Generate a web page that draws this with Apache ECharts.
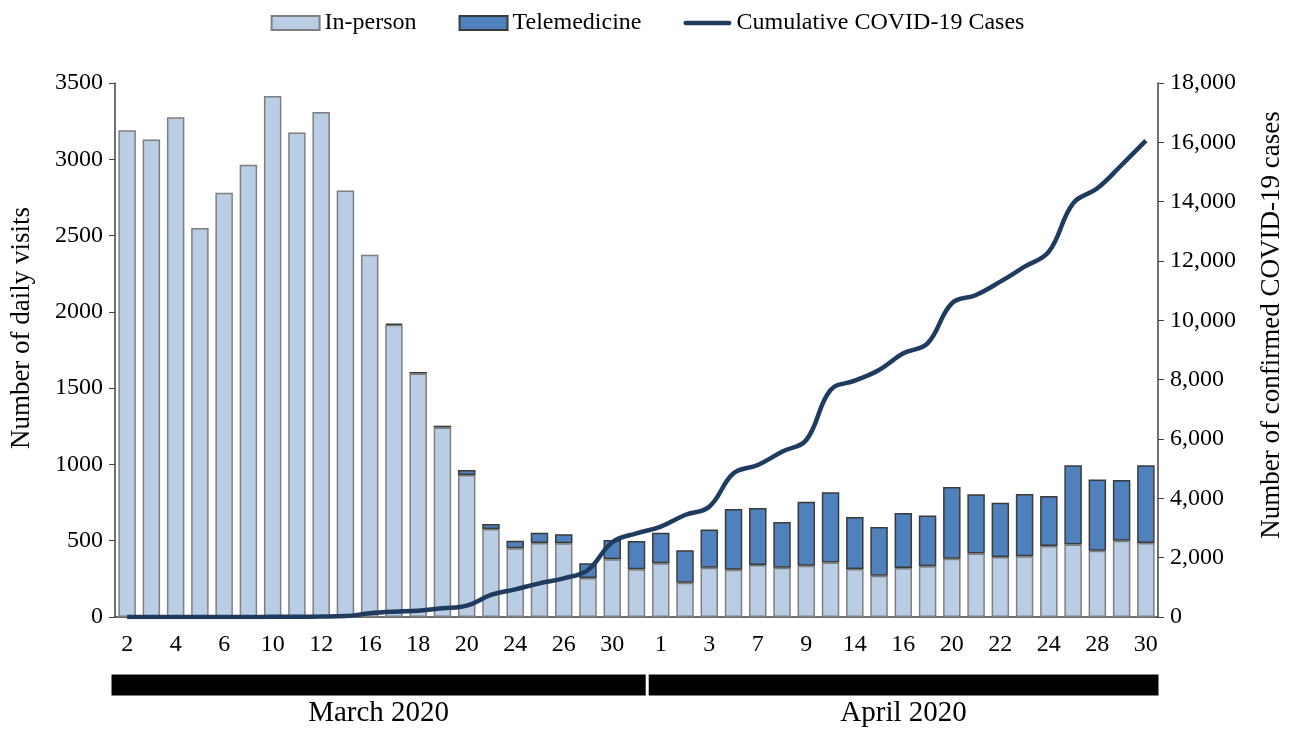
<!DOCTYPE html>
<html>
<head>
<meta charset="utf-8">
<script src="https://cdn.jsdelivr.net/npm/echarts@6/dist/echarts.min.js"></script>
<style>html,body{margin:0;padding:0;background:#fff;}#c{width:1295px;height:729px;}</style>
</head>
<body>
<div id="c"></div>
<script>
// Weekday visit dates (April 10 omitted, as in the reference)
const marchDates = ['3/2','3/3','3/4','3/5','3/6','3/9','3/10','3/11','3/12','3/13','3/16','3/17','3/18','3/19','3/20','3/23','3/24','3/25','3/26','3/27','3/30','3/31'];
const aprilDates = ['4/1','4/2','4/3','4/6','4/7','4/8','4/9','4/13','4/14','4/15','4/16','4/17','4/20','4/21','4/22','4/23','4/24','4/27','4/28','4/29','4/30'];
const monthNames = ['March 2020', 'April 2020'];

const inPersonMarch = [3190,3130,3275,2550,2780,2965,3415,3175,3310,2795,2375,1915,1596,1242,930,577,450,485,483,255,378,313];
const inPersonApril = [352,225,323,310,341,323,336,358,315,271,321,332,382,417,393,398,465,476,435,500,485];
const teleMarch = [0,0,0,0,0,0,0,0,0,0,0,8,10,12,33,33,50,68,60,97,127,185];
const teleApril = [200,212,250,398,373,300,420,459,340,319,361,334,470,387,356,408,328,518,467,398,509];
const casesMarch = [0,0,0,0,0,0,5,10,15,30,125,180,213,292,382,742,933,1135,1303,1584,2520,2820];
const casesApril = [3045,3438,3719,4843,5124,5573,5966,7652,7966,8326,8888,9225,10573,10854,11303,11809,12314,13944,14449,15236,16056];

const leftTicks = {min: 0, max: 3500, interval: 500};
const rightTicks = {min: 0, max: 18000, interval: 2000};

const dates = marchDates.concat(aprilDates);
const inPerson = inPersonMarch.concat(inPersonApril);
const tele = teleMarch.concat(teleApril);
const cases = casesMarch.concat(casesApril);

const FONT = '"Liberation Serif", "Times New Roman", serif';
const chart = echarts.init(document.getElementById('c'), null, {renderer: 'canvas'});
chart.setOption({
  animation: false,
  backgroundColor: '#fff',
  textStyle: {fontFamily: FONT, color: '#000'},
  legend: {
    top: 6, left: 'center',
    itemWidth: 48, itemHeight: 14, itemGap: 42,
    symbolKeepAspect: true,
    textStyle: {fontFamily: FONT, fontSize: 24, color: '#000'},
    data: [{name: 'In-person', icon: 'rect'}, {name: 'Telemedicine', icon: 'rect'},
      {name: 'Cumulative COVID-19 Cases', icon: 'path://M2.25,0 L45.75,0 A2.25,2.25 0 0 1 45.75,4.5 L2.25,4.5 A2.25,2.25 0 0 1 2.25,0 Z'}]
  },
  grid: [
    {left: 113, right: 137, top: 83, bottom: 112},
    {left: 110, right: 135, top: 673, height: 24}
  ],
  xAxis: [
    {
      type: 'category', gridIndex: 0, data: dates,
      axisLine: {lineStyle: {color: '#404040', width: 1.5}},
      axisTick: {show: false},
      axisLabel: {
        interval: 1, margin: 16, fontSize: 24, fontFamily: FONT, color: '#000',
        formatter: v => v.split('/')[1]
      }
    },
    {type: 'value', gridIndex: 1, min: 0, max: dates.length, show: false}
  ],
  yAxis: [
    {
      type: 'value', gridIndex: 0, min: leftTicks.min, max: leftTicks.max, interval: leftTicks.interval,
      name: 'Number of daily visits', nameLocation: 'middle', nameGap: 80, nameRotate: 90,
      nameTextStyle: {fontFamily: FONT, fontSize: 27, color: '#000', padding: [0, 0, 0, 44]},
      axisLine: {show: true, lineStyle: {color: '#404040', width: 1.5}},
      axisTick: {show: true, length: 6, lineStyle: {color: '#404040'}},
      axisLabel: {fontSize: 24, fontFamily: FONT, color: '#000', margin: 12, formatter: v => String(v)},
      splitLine: {show: false}
    },
    {
      type: 'value', gridIndex: 0, position: 'right', min: rightTicks.min, max: rightTicks.max, interval: rightTicks.interval,
      name: 'Number of confirmed COVID-19 cases', nameLocation: 'middle', nameGap: 100, nameRotate: 90,
      nameTextStyle: {fontFamily: FONT, fontSize: 27, color: '#000', padding: [0, 0, 0, 50]},
      axisLine: {show: true, lineStyle: {color: '#404040', width: 1.5}},
      axisTick: {show: true, length: 6, lineStyle: {color: '#404040'}},
      axisLabel: {fontSize: 24, fontFamily: FONT, color: '#000', margin: 12,
        formatter: v => v.toLocaleString('en-US')},
      splitLine: {show: false}
    },
    {type: 'category', gridIndex: 1, data: ['m'], show: false}
  ],
  series: [
    {
      name: 'In-person', type: 'bar', stack: 'visits', xAxisIndex: 0, yAxisIndex: 0,
      data: inPerson, barCategoryGap: '28%',
      itemStyle: {color: '#b9cde5', borderColor: '#7f7f7f', borderWidth: 1.5}
    },
    {
      name: 'Telemedicine', type: 'bar', stack: 'visits', xAxisIndex: 0, yAxisIndex: 0,
      data: tele.map(v => (v === 0 ? null : v)), barCategoryGap: '28%',
      itemStyle: {color: '#4f81bd', borderColor: '#3a3a3a', borderWidth: 1.5}
    },
    {
      name: 'Cumulative COVID-19 Cases', type: 'line', xAxisIndex: 0, yAxisIndex: 1,
      data: cases, smooth: 0.4, symbol: 'none', showSymbol: false, z: 5,
      lineStyle: {color: '#1f3b5f', width: 4.5},
      itemStyle: {color: '#1f3b5f'}
    },
    {
      name: monthNames[0], type: 'bar', stack: 'months', xAxisIndex: 1, yAxisIndex: 2,
      data: [marchDates.length], barWidth: '100%',
      itemStyle: {color: '#000', borderColor: '#fff', borderWidth: 1.5},
      label: {show: true, position: 'bottom', distance: 2, formatter: monthNames[0],
        fontFamily: FONT, fontSize: 29, color: '#000'}
    },
    {
      name: monthNames[1], type: 'bar', stack: 'months', xAxisIndex: 1, yAxisIndex: 2,
      data: [aprilDates.length], barWidth: '100%',
      itemStyle: {color: '#000', borderColor: '#fff', borderWidth: 1.5},
      label: {show: true, position: 'bottom', distance: 2, formatter: monthNames[1],
        fontFamily: FONT, fontSize: 29, color: '#000'}
    }
  ]
});
</script>
</body>
</html>
